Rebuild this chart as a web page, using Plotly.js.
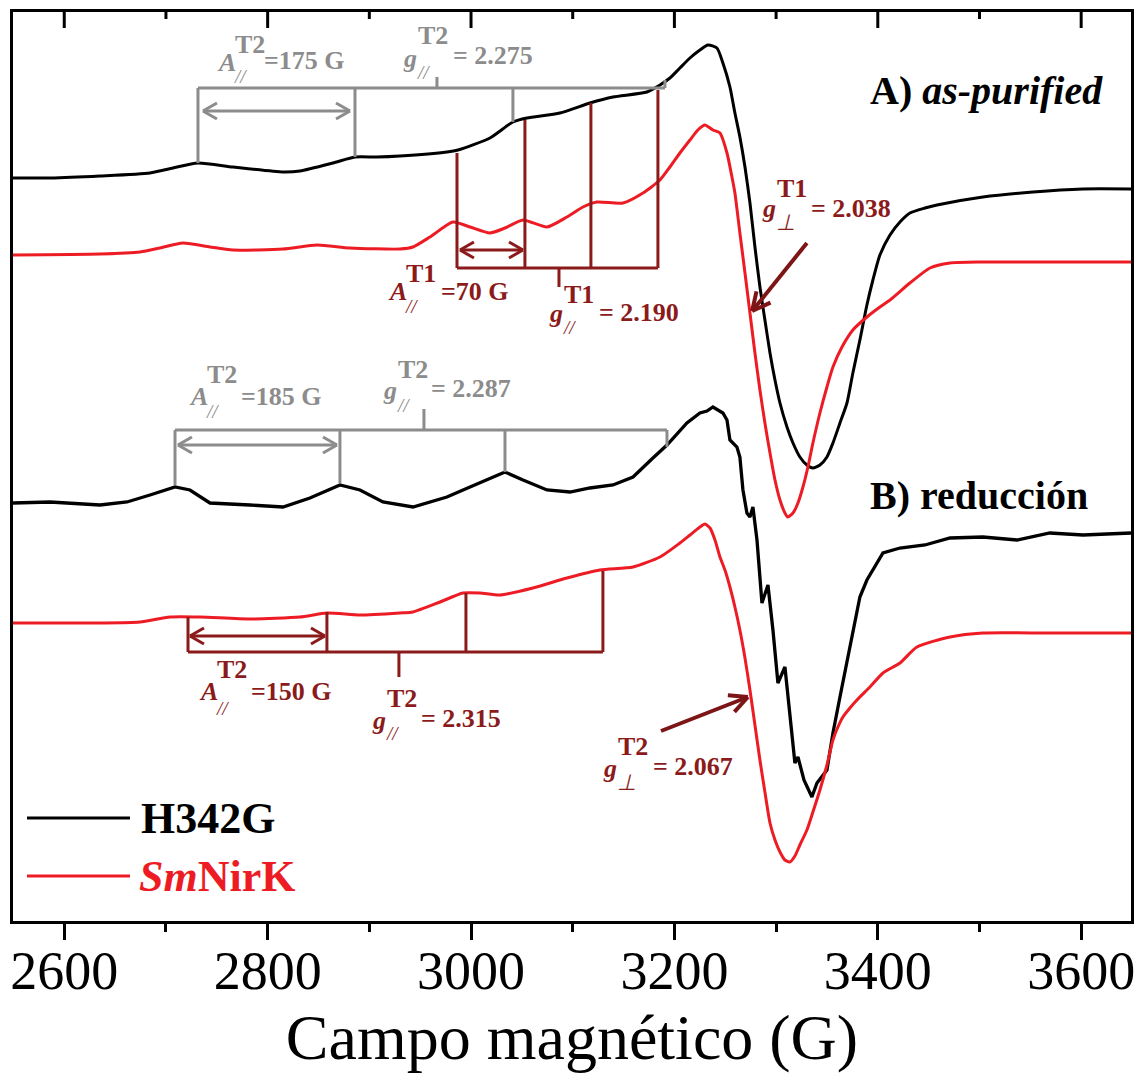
<!DOCTYPE html>
<html><head><meta charset="utf-8">
<script src="https://cdn.plot.ly/plotly-3.0.1.min.js"></script>
<style>body{margin:0;background:#fff}#chart{width:1138px;height:1086px}</style>
</head><body><div id="chart"></div>
<script>
// ---- Data (field in G, signal in arbitrary units, vertical offsets included) ----
const fieldH342G_A = [2549.6,2586.0,2635.1,2684.3,2706.9,2731.5,2765.9,2815.1,2831.8,2864.2,2885.9,2907.5,2930.1,2976.3,2987.2,3018.6,3041.2,3055.0,3087.4,3116.9,3139.6,3173.0,3185.8,3195.6,3205.4,3215.3,3225.1,3233.0,3241.8,3247.7,3254.6,3259.5,3264.4,3269.4,3274.3,3279.2,3284.1,3289.0,3294.0,3298.9,3303.8,3310.7,3316.6,3323.4,3330.3,3336.2,3343.1,3350.0,3355.9,3362.8,3369.7,3375.5,3382.4,3389.3,3395.2,3402.1,3412.0,3421.8,3431.6,3446.4,3458.2,3503.4,3552.6,3601.8,3649.0];
const signalH342G_A = [743,743,745,748,753,758,754,749,750,758,764,764,765,769,771,783,799,803,808,818,824,829,836,843,853,863,871,876,873,858,834,808,784,754,718,674,634,601,568,541,518,494,478,464,456,453,456,464,478,498,518,548,581,616,641,666,686,699,708,713,716,724,729,732,732];

const fieldSmNirK_A = [2549.6,2635.1,2674.5,2694.1,2716.7,2743.3,2765.9,2815.1,2848.5,2881.0,2930.1,2942.9,2959.6,2982.2,2999.0,3018.6,3033.4,3051.1,3074.7,3094.3,3110.1,3123.8,3149.4,3169.1,3185.8,3195.6,3205.4,3215.3,3223.1,3230.0,3237.9,3244.8,3251.7,3256.6,3259.5,3264.4,3269.4,3274.3,3279.2,3284.1,3289.0,3294.0,3298.9,3303.8,3308.7,3311.6,3316.6,3321.5,3326.4,3331.3,3336.2,3343.1,3350.0,3355.9,3364.8,3375.5,3389.3,3402.1,3412.0,3431.6,3451.3,3470.9,3503.4,3569.3,3649.0];
const signalSmNirK_A = [666,667,669,673,678,674,671,672,676,673,672,674,684,699,694,688,693,701,694,704,714,719,718,728,741,754,768,781,791,796,791,788,768,744,728,688,648,608,568,531,498,468,441,421,408,404,408,418,434,454,478,508,534,554,574,591,604,614,621,638,653,658,659,659,659];

const fieldH342G_B = [2549.6,2586.0,2635.1,2661.7,2684.3,2708.9,2723.6,2743.3,2782.6,2815.1,2841.6,2871.1,2890.8,2913.4,2942.9,2976.3,2999.0,3021.6,3033.4,3051.1,3074.7,3097.3,3116.9,3139.6,3159.3,3178.9,3192.7,3212.3,3225.1,3232.0,3237.9,3247.7,3251.7,3254.6,3261.5,3264.4,3267.4,3271.3,3274.3,3277.2,3281.2,3286.1,3292.0,3296.9,3301.8,3308.7,3313.6,3318.5,3321.5,3327.4,3335.2,3340.2,3350.0,3355.9,3362.8,3369.7,3375.5,3382.4,3389.3,3395.2,3405.1,3421.8,3446.4,3471.0,3503.4,3536.8,3569.3,3601.8,3649.0];
const signalH342G_B = [418,419,416,419,426,434,431,418,416,414,423,436,431,419,414,424,434,444,449,441,431,429,433,436,444,463,476,498,508,510,514,508,501,481,474,464,431,408,404,414,381,318,336,291,238,254,206,158,164,141,124,138,151,188,224,258,288,324,341,351,368,373,376,383,384,381,388,386,388];

const fieldSmNirK_B = [2549.6,2635.1,2674.5,2704.0,2733.5,2782.6,2831.8,2858.3,2890.8,2930.1,2942.9,2969.5,2992.1,3008.8,3028.5,3060.9,3094.3,3126.8,3159.3,3185.8,3205.4,3215.3,3225.1,3230.0,3235.0,3239.9,3244.8,3249.7,3254.6,3259.5,3264.4,3269.4,3274.3,3279.2,3284.1,3289.0,3294.0,3298.9,3303.8,3308.7,3313.6,3318.5,3323.4,3330.3,3336.2,3343.1,3350.0,3355.9,3360.8,3365.7,3372.6,3379.5,3392.3,3405.1,3421.8,3438.5,3471.0,3503.4,3569.3,3649.0];
const signalSmNirK_B = [298,298,299,304,304,302,304,308,306,308,309,319,328,328,326,333,343,351,354,364,378,386,394,397,393,381,364,351,334,314,291,263,231,196,161,129,98,81,69,61,59,65,76,91,109,131,156,181,194,204,213,221,234,248,258,274,284,288,288,288];

const seriesNames = ['H342G', 'SmNirK'];
const tickValues = [2600, 2800, 3000, 3200, 3400, 3600];
const minorTickValues = [2700, 2900, 3100, 3300, 3500];

// ---- styling ----
const FONT = '"Liberation Serif","Times New Roman",serif';
const BLACK = '#000000', RED = '#ED1C24', GRAY = '#8c8c8c', DRED = '#8b1a1a';
const KX = 1.0168; // px per G
const PW = 1118, PH = 909, L = 13, T = 12;
const px = v => (v - L) / PW;          // pixel x -> paper
const py = v => (T + PH - v) / PH;     // pixel y -> paper

const traces = [
  {x: fieldH342G_A, y: signalH342G_A, mode:'lines', line:{color:BLACK,width:3,shape:'spline',smoothing:0.6}, name:seriesNames[0], hoverinfo:'skip'},
  {x: fieldSmNirK_A, y: signalSmNirK_A, mode:'lines', line:{color:RED,width:3,shape:'spline',smoothing:0.6}, name:seriesNames[1], hoverinfo:'skip'},
  {x: fieldH342G_B, y: signalH342G_B, mode:'lines', line:{color:BLACK,width:3.3}, name:seriesNames[0], hoverinfo:'skip'},
  {x: fieldSmNirK_B, y: signalSmNirK_B, mode:'lines', line:{color:RED,width:3,shape:'spline',smoothing:0.6}, name:seriesNames[1], hoverinfo:'skip'}
];

const shapes = [];
function seg(x0,y0,x1,y1,color,w){ shapes.push({type:'line',xref:'x',yref:'y',x0,y0,x1,y1,line:{color,width:w||3}}); }
function head(xe,ye,xs,ys,color,w,len,half){
  const dx=(xe-xs)*KX, dy=(ye-ys);
  const d=Math.hypot(dx,dy), ux=dx/d, uy=dy/d;
  const bx=-ux*len, by=-uy*len, nx=-uy*half, ny=ux*half;
  seg(xe,ye,xe+(bx+nx)/KX,ye+by+ny,color,w);
  seg(xe,ye,xe+(bx-nx)/KX,ye+by-ny,color,w);
}
function dblArrow(x0,x1,y,color){ seg(x0,y,x1,y,color,3); head(x0,y,x1,y,color,3,14,8); head(x1,y,x0,y,color,3,14,8); }
function bracket(b,color){
  seg(b.ticks[0][0],b.bar,b.ticks[b.ticks.length-1][0],b.bar,color,3);
  b.ticks.forEach(t=>seg(t[0],b.bar,t[0],t[1],color,3));
  seg(b.center[0],b.bar,b.center[0],b.center[1],color,3);
  dblArrow(b.arrow[0],b.arrow[1],b.arrow[2],color);
}
bracket({bar:833, ticks:[[2731.5,758],[2885.9,764],[3041.2,799],[3190.7,841]], center:[2966.5,844], arrow:[2736.4,2881.0,810]}, GRAY);
bracket({bar:653, ticks:[[2986.2,768],[3053.0,801],[3117.9,818],[3183.8,831]], center:[3086.5,634], arrow:[2989.1,3051.1,671]}, DRED);
bracket({bar:491, ticks:[[2708.9,436],[2871.1,438],[3033.4,449],[3192.7,474]], center:[2953.7,512], arrow:[2711.8,2868.2,476]}, GRAY);
bracket({bar:269, ticks:[[2721.7,304],[2858.3,309],[2995.0,328],[3129.7,350]], center:[2929.1,244], arrow:[2723.6,2856.4,285]}, DRED);
function arrow(xs,ys,xe,ye,color){ seg(xs,ys,xe,ye,color,4); head(xe,ye,xs,ys,color,4,18,9); }
arrow(3330.3,678,3276.5,610,'#7d1517');
arrow(3186.8,190,3272.3,224,'#7d1517');

// top-frame ticks pointing into the plot
tickValues.forEach(v=>shapes.push({type:'line',xref:'x',yref:'paper',x0:v,x1:v,y0:1+1.5/PH,y1:1-16/PH,line:{color:BLACK,width:3}}));
minorTickValues.forEach(v=>shapes.push({type:'line',xref:'x',yref:'paper',x0:v,x1:v,y0:1+1.5/PH,y1:1-7/PH,line:{color:BLACK,width:3}}));

// legend lines
shapes.push({type:'line',xref:'paper',yref:'paper',x0:px(27),x1:px(130),y0:py(818),y1:py(818),line:{color:BLACK,width:3}});
shapes.push({type:'line',xref:'paper',yref:'paper',x0:px(27),x1:px(130),y0:py(876),y1:py(876),line:{color:RED,width:3}});

const annotations = [];
function txt(x,y,text,size,color,anchor){
  annotations.push({xref:'paper',yref:'paper',x:px(x),y:py(y),text,showarrow:false,xanchor:anchor||'left',yanchor:'middle',
    font:{family:FONT,size,color},borderpad:0});
}
function lab(c,color){
  const w = c.base==='A' ? 17 : 14;
  txt(c.b[0],c.b[1],'<i><b>'+c.base+'</b></i>',26,color);
  txt(c.b[0]+w+1,c.s,'<b>'+c.sup+'</b>',26,color);
  txt(c.b[0]+w,c.u,'<i>'+c.sub+'</i>',c.sub==='//'?19:22,color);
  txt(c.r[0],c.r[1],'<b>'+c.rest+'</b>',26,color);
}
lab({base:'A',sup:'T2',sub:'//',rest:'=175 G',b:[216,62],s:44,u:76,r:[263,61]},GRAY);
lab({base:'g',sup:'T2',sub:'//',rest:'= 2.275',b:[402,58],s:36,u:72,r:[452,56]},GRAY);
lab({base:'A',sup:'T1',sub:'//',rest:'=70 G',b:[387,291],s:273,u:306,r:[440,291]},DRED);
lab({base:'g',sup:'T1',sub:'//',rest:'= 2.190',b:[548,313],s:294,u:327,r:[598,312]},DRED);
lab({base:'g',sup:'T1',sub:'⊥',rest:'= 2.038',b:[761,208],s:188,u:222,r:[810,208]},DRED);
lab({base:'A',sup:'T2',sub:'//',rest:'=185 G',b:[188,396],s:374,u:412,r:[240,396]},GRAY);
lab({base:'g',sup:'T2',sub:'//',rest:'= 2.287',b:[382,390],s:369,u:405,r:[430,388]},GRAY);
lab({base:'A',sup:'T2',sub:'//',rest:'=150 G',b:[198,691],s:669,u:708,r:[250,691]},DRED);
lab({base:'g',sup:'T2',sub:'//',rest:'= 2.315',b:[371,720],s:699,u:733,r:[420,718]},DRED);
lab({base:'g',sup:'T2',sub:'⊥',rest:'= 2.067',b:[602,768],s:746,u:782,r:[652,766]},DRED);

txt(869,90,'<b>A)</b> <b><i>as-purified</i></b>',40,BLACK);
txt(869,495,'<b>B) reducción</b>',40,BLACK);
txt(140,818,'<b>'+seriesNames[0]+'</b>',44,BLACK);
txt(138,876,'<b><i>Sm</i>NirK</b>',44,RED);

const xr = [2549.6, 3649.0];
const layout = {
  width:1138, height:1086,
  margin:{l:L, r:7, t:T, b:165, pad:0},
  paper_bgcolor:'#fff', plot_bgcolor:'#fff',
  showlegend:false,
  xaxis:{range:xr, showgrid:false, zeroline:false, showline:true, mirror:true, linecolor:BLACK, linewidth:3,
    ticks:'outside', ticklen:16, tickwidth:3, tickcolor:BLACK, tickmode:'array', tickvals:tickValues, ticktext:tickValues.map(String),
    ticklabelstandoff:-16,
    minor:{ticks:'outside', ticklen:8, tickwidth:3, tickcolor:BLACK, tickmode:'array', tickvals:minorTickValues, showgrid:false},
    tickfont:{family:FONT, size:54, color:BLACK},
    title:{text:'Campo magnético (G)', font:{family:FONT, size:64, color:BLACK}, standoff:15}},
  yaxis:{range:[0,909], showgrid:false, zeroline:false, showline:true, mirror:true, linecolor:BLACK, linewidth:3,
    ticks:'', showticklabels:false},
  shapes, annotations
};
Plotly.newPlot('chart', traces, layout, {staticPlot:true, displayModeBar:false});
</script></body></html>
